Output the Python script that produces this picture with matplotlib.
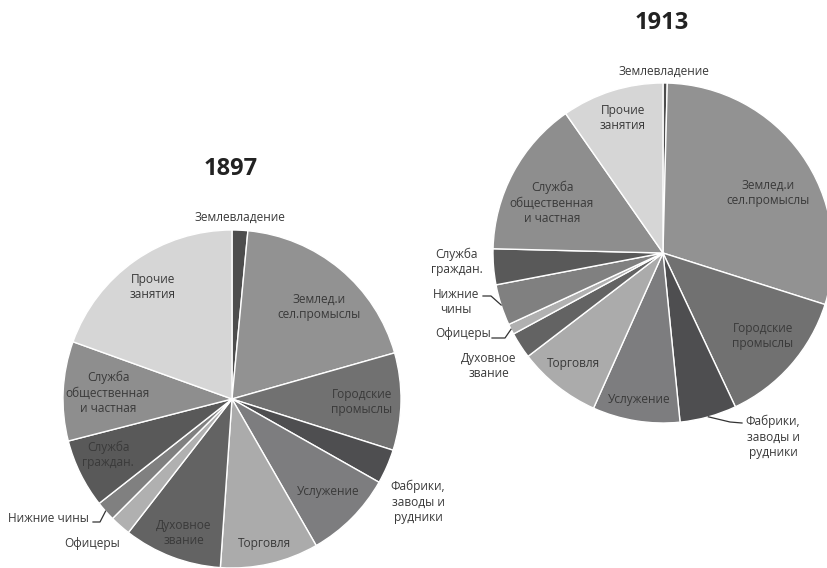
import matplotlib
matplotlib.use("Agg")
import matplotlib.pyplot as plt
import numpy as np

plt.rcParams['font.family'] = ['Open Sans', 'DejaVu Sans']

categories = ["Землевладение", "Землед.и сел.промыслы", "Городские промыслы",
              "Фабрики, заводы и рудники", "Услужение", "Торговля",
              "Духовное звание", "Офицеры", "Нижние чины", "Служба граждан.",
              "Служба общественная и частная", "Прочие занятия"]
values_1897 = [1.5, 19.1, 9.3, 3.3, 8.5, 9.4, 9.4, 2.0, 1.9, 6.6, 9.5, 19.5]
values_1913 = [0.4, 29.5, 13.1, 5.4, 8.3, 7.9, 2.5, 1.0, 3.9, 3.4, 14.9, 9.7]
years = ["1897", "1913"]

colors = ["#4d4d4d", "#929292", "#717171", "#4e4e50", "#7d7d7f", "#ababab",
          "#636363", "#b0b0b0", "#808080", "#595959", "#8e8e8e", "#d6d6d6"]

W, H = 827, 568
fig = plt.figure(figsize=(W / 100, H / 100), dpi=100)
ax = fig.add_axes([0, 0, 1, 1])

def Y(y):
    return H - y

# layout (image pixel coordinates, y downward)
pie_centers = [(232, 399), (663, 253)]
pie_radii = [169, 170]
title_pos = [(231, 169), (662, 23)]

# label text & positions per pie: (text, x, y, ha)
labels_1897 = [
    ("Землевладение", 240, 217, "center"),
    ("Земле\u0434.и\nсел.промыслы", 319, 307, "center"),
    ("Городские\nпромыслы", 362, 402, "center"),
    ("Фабрики,\nзаводы и\nрудники", 418, 502, "center"),
    ("Услужение", 328, 492, "center"),
    ("Торговля", 264, 543, "center"),
    ("Духовное\nзвание", 184, 533, "center"),
    ("Офицеры", 92, 543, "center"),
    ("Нижние чины", 89, 519, "right"),
    ("Служба\nграждан.", 108, 455, "center"),
    ("Служба\nобщественная\nи частная", 108, 393, "center"),
    ("Прочие\nзанятия", 153, 287, "center"),
]
labels_1913 = [
    ("Землевладение", 664, 71, "center"),
    ("Землед.и\nсел.промыслы", 768, 193, "center"),
    ("Городские\nпромыслы", 763, 336, "center"),
    ("Фабрики,\nзаводы и\nрудники", 773, 437, "center"),
    ("Услужение", 639, 399, "center"),
    ("Торговля", 573, 363, "center"),
    ("Духовное\nзвание", 489, 366, "center"),
    ("Офицеры", 463, 333, "center"),
    ("Нижние\nчины", 456, 302, "center"),
    ("Служба\nграждан.", 457, 262, "center"),
    ("Служба\nобщественная\nи частная", 552, 203, "center"),
    ("Прочие\nзанятия", 623, 118, "center"),
]
# leader lines: category index -> (start point, knee point) in image px
leaders_1897 = {8: [(93, 522), (100, 522)]}
leaders_1913 = {8: [(483, 296), (491, 296)],
                7: [(492, 338), (505, 338)],
                3: [(742, 423), (730, 422)]}

text_color = "#3a3a3a"
fs = 8.6

for vals, (cx, cy), r, (tx, ty), yr, labs, leads in zip(
        [values_1897, values_1913], pie_centers, pie_radii, title_pos, years,
        [labels_1897, labels_1913], [leaders_1897, leaders_1913]):
    wedges, _ = ax.pie(vals, colors=colors, startangle=90, counterclock=False,
                       center=(cx, Y(cy)), radius=r,
                       wedgeprops=dict(edgecolor="white", linewidth=1.0))
    ax.text(tx, Y(ty), yr, ha="center", va="center", fontsize=17,
            fontweight="bold", color="#222222")
    for txt, lx, ly, ha in labs:
        ax.text(lx, Y(ly), txt, ha=ha, va="center", fontsize=fs,
                color=text_color, linespacing=1.25)
    for idx, pts in leads.items():
        w = wedges[idx]
        mid = np.deg2rad((w.theta1 + w.theta2) / 2)
        ex = w.center[0] + w.r * np.cos(mid)
        ey = w.center[1] + w.r * np.sin(mid)
        xs = [p[0] for p in pts] + [ex]
        ys = [Y(p[1]) for p in pts] + [ey]
        ax.plot(xs, ys, color="#333333", lw=0.9)

ax.set_xlim(0, W)
ax.set_ylim(0, H)
ax.set_aspect("equal")
ax.axis("off")
fig.savefig("out.png", dpi=100, facecolor="white")
